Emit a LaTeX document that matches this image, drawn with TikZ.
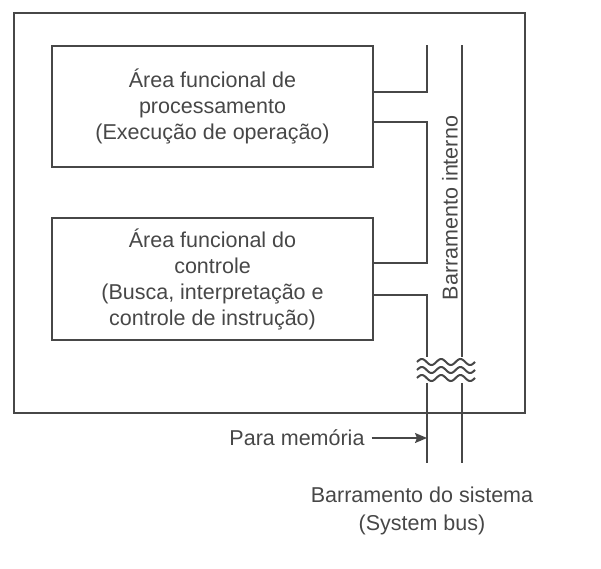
\documentclass[tikz,border=0pt]{standalone}
\usepackage{fontspec}
\setmainfont{Liberation Sans}
\usetikzlibrary{arrows.meta}
\begin{document}
\begin{tikzpicture}[x=1pt, y=-1pt, line width=1.5pt, color=black!72,
    font=\fontsize{21.5}{26}\selectfont,
    area/.style={draw, line width=1.8pt, minimum width=321pt, align=center, inner sep=0pt},
    wave/.style={line width=2pt, domain=0:58, samples=80, smooth}]
  \useasboundingbox (0,0) rectangle (601,568);
  % CPU frame
  \draw[line width=1.8pt] (14,13) rectangle (525,413);
  \node[area, minimum height=121pt] (proc) at (212.5,106.5) {Área funcional de\\processamento\\(Execução de operação)};
  \node[area, minimum height=122pt] (ctrl) at (212.5,279) {Área funcional do\\controle\\(Busca, interpretação e\\controle de instrução)};
  % internal bus
  \coordinate (ltop) at (427,45);
  \coordinate (rtop) at (462,45);
  \coordinate (lbot) at (427,463);
  \coordinate (rbot) at (462,463);
  \draw (proc.east |- 0,92) -| (ltop);
  \draw (proc.east |- 0,122) -| (427,263) -- (ctrl.east |- 0,263);
  \draw (ctrl.east |- 0,295) -| (427,357);
  \draw (427,383) -- (lbot);
  \draw (rtop) -- (462,357);
  \draw (462,383) -- (rbot);
  \foreach \wy in {362,370,378}
    \draw[wave, shift={(417,\wy)}] plot (\x, {-3*sin(\x*18.65)});
  \node[rotate=90] (intbus) at (450,208) {Barramento interno};
  % system bus
  \node (mem) at (297,438) {Para memória};
  \draw[-{Stealth[length=12pt,width=10pt,inset=2pt]}] ([xshift=3pt]mem.east) -- (lbot |- mem);
  \node[align=center, font=\fontsize{21.5}{28}\selectfont] (sysbus) at (422,511) {Barramento do sistema\\(System bus)};
\end{tikzpicture}
\end{document}
